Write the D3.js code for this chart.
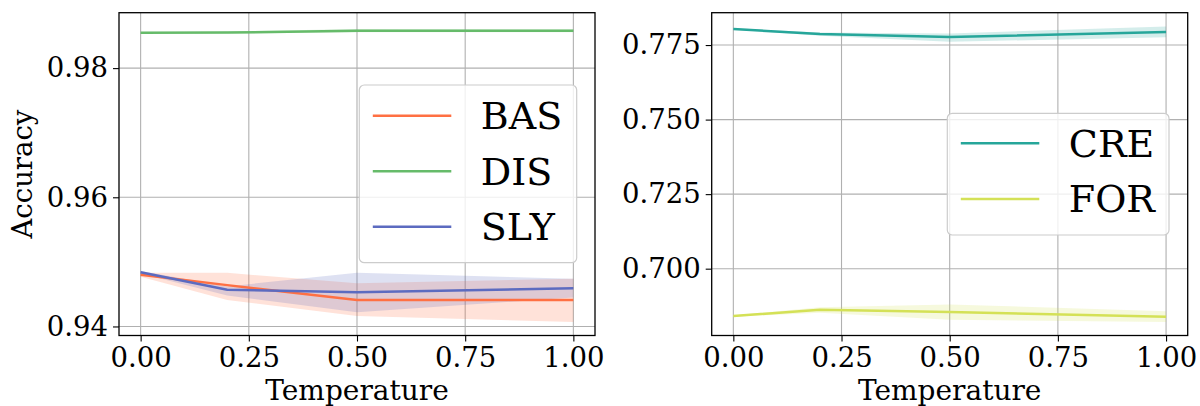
<!DOCTYPE html>
<html>
<head>
<meta charset="utf-8">
<script src="https://cdn.jsdelivr.net/npm/d3@7"></script>
<style>
  body { margin: 0; background: #fff; }
  svg { display: block; font-family: 'DejaVu Serif', serif; }
</style>
</head>
<body>
<svg id="chart" width="1200" height="406"></svg>
<script>
// temperatures sampled
const temps = [0, 0.2, 0.5, 1.0];
const xTicks = [0, 0.25, 0.5, 0.75, 1.0];

// left panel
const basMean = [0.9480, 0.9464, 0.9441, 0.9441];
const basLo = [0.9477, 0.9441, 0.9416, 0.9407];
const basHi = [0.9483, 0.9483, 0.9467, 0.9474];
const disMean = [0.98547, 0.98550, 0.98578, 0.98578];
const disLo = [0.98540, 0.98535, 0.98555, 0.98555];
const disHi = [0.98554, 0.98565, 0.98605, 0.98600];
const slyMean = [0.9484, 0.9457, 0.9453, 0.9459];
const slyLo = [0.9482, 0.9448, 0.9422, 0.9445];
const slyHi = [0.9486, 0.9462, 0.9483, 0.9474];
const leftTicks = [0.94, 0.96, 0.98];

// right panel
const creMean = [0.7804, 0.7787, 0.7777, 0.7794];
const creLo = [0.7802, 0.7781, 0.7761, 0.7776];
const creHi = [0.7806, 0.7792, 0.7789, 0.7812];
const forMean = [0.6841, 0.6862, 0.6855, 0.6839];
const forLo = [0.6839, 0.6852, 0.6829, 0.6821];
const forHi = [0.6843, 0.6871, 0.6880, 0.6857];
const rightTicks = [0.700, 0.725, 0.750, 0.775];

const panels = [
  {
    left: 119, right: 595, top: 12.7, bottom: 335.5,
    yDomain: [0.9386, 0.98858], yTicks: leftTicks, yFmt: d3.format('.2f'),
    yLabel: 'Accuracy',
    series: [
      { name: 'BAS', color: '#ff7043', mean: basMean, lo: basLo, hi: basHi },
      { name: 'DIS', color: '#66bb6a', mean: disMean, lo: disLo, hi: disHi },
      { name: 'SLY', color: '#5c6bc0', mean: slyMean, lo: slyLo, hi: slyHi },
    ],
    legend: { x: 359.3, y: 85, w: 217.4, h: 177.7, row0: 30.7, step: 55.5 },
  },
  {
    left: 711.7, right: 1187.7, top: 12.7, bottom: 335.5,
    yDomain: [0.67759, 0.78585], yTicks: rightTicks, yFmt: d3.format('.3f'),
    yLabel: null,
    series: [
      { name: 'CRE', color: '#26a69a', mean: creMean, lo: creLo, hi: creHi },
      { name: 'FOR', color: '#d4e157', mean: forMean, lo: forLo, hi: forHi },
    ],
    legend: { x: 947.3, y: 113.3, w: 221.7, h: 121.7, row0: 30, step: 55.7 },
  },
];

const svg = d3.select('#chart');

panels.forEach((p) => {
  const g = svg.append('g');

  const x = d3.scaleLinear().domain([-0.05, 1.05]).range([p.left, p.right]);
  const y = d3.scaleLinear().domain(p.yDomain).range([p.bottom, p.top]);

  // grid
  g.append('g')
    .selectAll('line.vx')
    .data(xTicks)
    .join('line')
    .attr('x1', (d) => x(d)).attr('x2', (d) => x(d))
    .attr('y1', p.top).attr('y2', p.bottom)
    .attr('stroke', '#b0b0b0').attr('stroke-width', 1.1);
  g.append('g')
    .selectAll('line.hy')
    .data(p.yTicks)
    .join('line')
    .attr('y1', (d) => y(d)).attr('y2', (d) => y(d))
    .attr('x1', p.left).attr('x2', p.right)
    .attr('stroke', '#b0b0b0').attr('stroke-width', 1.1);

  // bands
  const area = d3.area()
    .x((d) => x(d.t))
    .y0((d) => y(d.lo))
    .y1((d) => y(d.hi));
  const line = d3.line()
    .x((d) => x(d.t))
    .y((d) => y(d.v));

  p.series.forEach((s) => {
    const pts = temps.map((t, i) => ({ t, v: s.mean[i], lo: s.lo[i], hi: s.hi[i] }));
    g.append('path')
      .datum(pts)
      .attr('d', area)
      .attr('fill', s.color)
      .attr('fill-opacity', 0.2);
  });
  p.series.forEach((s) => {
    const pts = temps.map((t, i) => ({ t, v: s.mean[i] }));
    g.append('path')
      .datum(pts)
      .attr('d', line)
      .attr('fill', 'none')
      .attr('stroke', s.color)
      .attr('stroke-width', 2.5);
  });

  // axes
  const xAxis = d3.axisBottom(x)
    .tickValues(xTicks)
    .tickFormat(d3.format('.2f'))
    .tickSize(6)
    .tickSizeOuter(0)
    .tickPadding(6);
  const yAxis = d3.axisLeft(y)
    .tickValues(p.yTicks)
    .tickFormat(p.yFmt)
    .tickSize(6)
    .tickSizeOuter(0)
    .tickPadding(5);

  const xg = g.append('g')
    .attr('transform', `translate(0,${p.bottom})`)
    .call(xAxis);
  const yg = g.append('g')
    .attr('transform', `translate(${p.left},0)`)
    .call(yAxis);
  [xg, yg].forEach((a) => {
    a.select('.domain').remove();
    a.selectAll('.tick line').attr('stroke', '#000').attr('stroke-width', 1.1);
    a.selectAll('.tick text')
      .attr('font-family', 'DejaVu Serif')
      .attr('font-size', 27.5)
      .attr('fill', '#000');
  });

  // frame
  g.append('rect')
    .attr('x', p.left).attr('y', p.top)
    .attr('width', p.right - p.left).attr('height', p.bottom - p.top)
    .attr('fill', 'none')
    .attr('stroke', '#000')
    .attr('stroke-width', 1.3);

  // labels
  g.append('text')
    .attr('x', (p.left + p.right) / 2)
    .attr('y', 400)
    .attr('text-anchor', 'middle')
    .attr('font-size', 28)
    .text('Temperature');
  if (p.yLabel) {
    g.append('text')
      .attr('transform', `translate(32,${(p.top + p.bottom) / 2}) rotate(-90)`)
      .attr('text-anchor', 'middle')
      .attr('font-size', 27.5)
      .text(p.yLabel);
  }

  // legend
  const L = p.legend;
  const lg = g.append('g').attr('transform', `translate(${L.x},${L.y})`);
  lg.append('rect')
    .attr('width', L.w).attr('height', L.h)
    .attr('rx', 5)
    .attr('fill', '#fff').attr('fill-opacity', 0.8)
    .attr('stroke', '#cccccc').attr('stroke-width', 1.2);
  p.series.forEach((s, i) => {
    const yy = L.row0 + i * L.step;
    lg.append('line')
      .attr('x1', 13.5).attr('x2', 92)
      .attr('y1', yy).attr('y2', yy)
      .attr('stroke', s.color).attr('stroke-width', 2.5);
    lg.append('text')
      .attr('x', 121.5)
      .attr('y', yy + 13.5)
      .attr('font-size', 38)
      .text(s.name);
  });
});
</script>
</body>
</html>
